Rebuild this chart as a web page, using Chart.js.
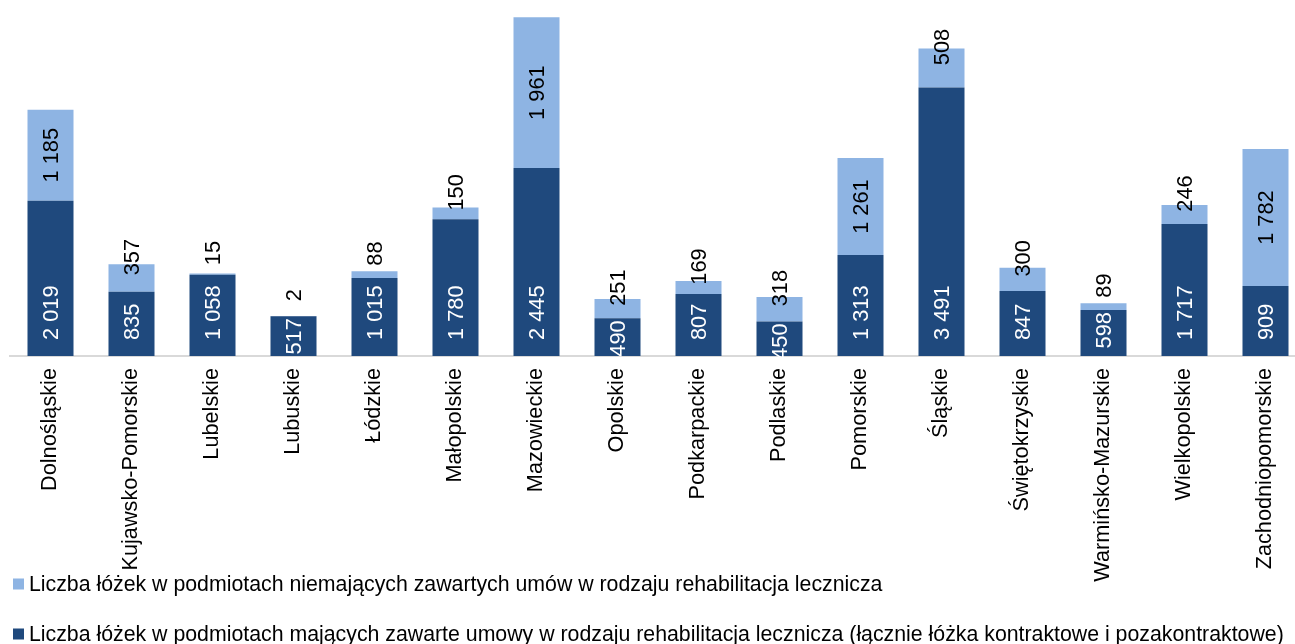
<!DOCTYPE html>
<html>
<head>
<meta charset="utf-8">
<script src="https://cdn.jsdelivr.net/npm/chart.js@4.4.1/dist/chart.umd.min.js"></script>
<style>
    html, body { margin: 0; padding: 0; background: #fff; overflow: hidden; }
    .wrap { width: 1306px; height: 644px; position: relative; }
</style>
</head>
<body>
<div class="wrap"><canvas id="beds"></canvas></div>
<script>
let regions = ['Dolnośląskie', 'Kujawsko-Pomorskie', 'Lubelskie', 'Lubuskie', 'Łódzkie', 'Małopolskie',
    'Mazowieckie', 'Opolskie', 'Podkarpackie', 'Podlaskie', 'Pomorskie', 'Śląskie', 'Świętokrzyskie',
    'Warmińsko-Mazurskie', 'Wielkopolskie', 'Zachodniopomorskie'];
let withContract = [2019, 835, 1058, 517, 1015, 1780, 2445, 490, 807, 450, 1313, 3491, 847, 598, 1717, 909];
let withoutContract = [1185, 357, 15, 2, 88, 150, 1961, 251, 169, 318, 1261, 508, 300, 89, 246, 1782];
let labelWith = 'Liczba łóżek w podmiotach mających zawarte umowy w rodzaju rehabilitacja lecznicza (łącznie łóżka kontraktowe i pozakontraktowe)';
let labelWithout = 'Liczba łóżek w podmiotach niemających zawartych umów w rodzaju rehabilitacja lecznicza';

const FONT = '"Liberation Sans", Arial, sans-serif';

function fmt(n) {
    return String(n).replace(/\B(?=(\d{3})+(?!\d))/g, ' ');
}

// etykiety wartości obrócone o 90 stopni
const valueLabels = {
    id: 'valueLabels',
    afterDatasetsDraw(chart) {
        const ctx = chart.ctx;
        ctx.save();
        ctx.font = '21.8px ' + FONT;
        ctx.textBaseline = 'middle';
        chart.data.datasets.forEach((ds, d) => {
            let meta = chart.getDatasetMeta(d);
            meta.data.forEach((bar, i) => {
                let text = fmt(ds.data[i]);
                let w = ctx.measureText(text).width;
                let top = bar.y, base = bar.base, h = base - top;
                ctx.save();
                if (d === 0) {
                    // dolna część - biały tekst od podstawy
                    let bottom = h >= w + 20 ? base - 16 : top + w + 2;
                    ctx.fillStyle = '#fff';
                    ctx.translate(bar.x, bottom);
                    ctx.rotate(-Math.PI / 2);
                    ctx.textAlign = 'left';
                    ctx.fillText(text, 0, 1);
                } else {
                    let mid = (top + base) / 2;
                    if (h < w + 20) mid -= 21;
                    ctx.fillStyle = '#000';
                    ctx.translate(bar.x, mid);
                    ctx.rotate(-Math.PI / 2);
                    ctx.textAlign = 'center';
                    ctx.fillText(text, 0, 1);
                }
                ctx.restore();
            });
        });
        ctx.restore();
    }
};

// legenda rysowana pod osią, w dwóch wierszach
const bottomLegend = {
    id: 'bottomLegend',
    afterDraw(chart) {
        const ctx = chart.ctx;
        let items = chart.data.datasets.slice().reverse();
        let rows = [584, 634];
        ctx.save();
        ctx.font = '21.3px ' + FONT;
        ctx.textBaseline = 'middle';
        ctx.textAlign = 'left';
        items.forEach((ds, k) => {
            let y = rows[k];
            ctx.fillStyle = ds.backgroundColor;
            ctx.fillRect(13, y - 5.5, 11, 11);
            ctx.fillStyle = '#000';
            ctx.fillText(ds.label, 29, y + 1);
        });
        ctx.restore();
    }
};

let ctx = document.getElementById('beds').getContext('2d');
let bedsChart = new Chart(ctx, {
    type: 'bar',
    data: {
        labels: regions,
        datasets: [{
            label: labelWith,
            data: withContract,
            backgroundColor: '#1F497D'
        }, {
            label: labelWithout,
            data: withoutContract,
            backgroundColor: '#8EB4E3'
        }]
    },
    options: {
        responsive: true,
        maintainAspectRatio: false,
        animation: false,
        layout: { padding: { left: 10, right: 0, top: 10, bottom: 0 } },
        datasets: {
            bar: { barPercentage: 0.568, categoryPercentage: 1 }
        },
        plugins: {
            legend: { display: false },
            tooltip: { enabled: false }
        },
        scales: {
            x: {
                stacked: true,
                grid: { display: false, drawTicks: false },
                border: { display: true, color: '#d9d9d9', width: 2 },
                ticks: {
                    autoSkip: false,
                    minRotation: 90,
                    maxRotation: 90,
                    padding: 12,
                    color: '#000',
                    font: { family: FONT, size: 21.7 }
                },
                afterFit: function (scale) {
                    scale.height = 288;
                }
            },
            y: {
                stacked: true,
                display: false,
                min: 0,
                max: 4500
            }
        }
    },
    plugins: [valueLabels, bottomLegend]
});
</script>
</body>
</html>
